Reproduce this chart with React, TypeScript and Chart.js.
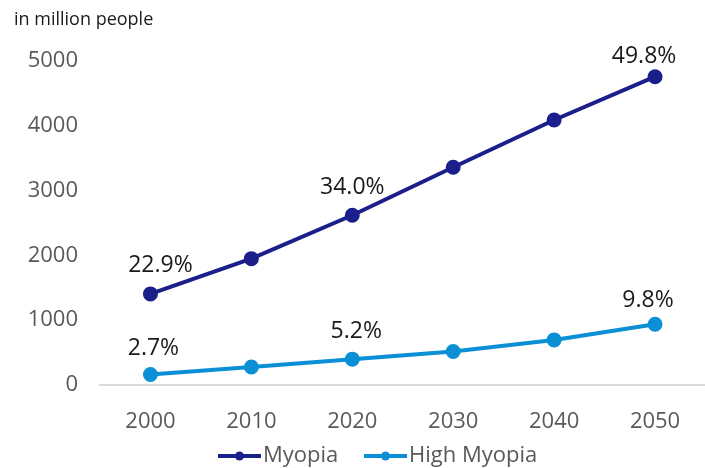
import React, { useEffect, useRef } from "react";
import { Chart, registerables } from "chart.js";

Chart.register(...registerables);

const years = ["2000", "2010", "2020", "2030", "2040", "2050"];
const myopia = [1406, 1950, 2620, 3361, 4089, 4758];
const highMyopia = [163, 277, 399, 517, 696, 938];
const myopiaShare = ["22.9%", "", "34.0%", "", "", "49.8%"];
const highMyopiaShare = ["2.7%", "", "5.2%", "", "", "9.8%"];
const yTicks = [0, 1000, 2000, 3000, 4000, 5000];

const FONT = "'Open Sans', 'Noto Sans', sans-serif";
const NAVY = "#1b1f8c";
const BLUE = "#0b8fd5";
const TICK = "#595959";

// nudges for the share labels relative to their points [dx, dy]
const labelNudges = [
  [[10, -28], null, [0, -28], null, null, [-11, -20]],
  [[3, -26], null, [4, -28], null, null, [-7, -24]],
];

const shareLabels = {
  id: "shareLabels",
  afterDatasetsDraw(chart: any) {
    const ctx = chart.ctx;
    const sets = [myopiaShare, highMyopiaShare];
    ctx.save();
    ctx.font = `23px ${FONT}`;
    ctx.fillStyle = "#1a1a1a";
    ctx.textAlign = "center";
    ctx.textBaseline = "middle";
    sets.forEach((labels, di) => {
      const meta = chart.getDatasetMeta(di);
      labels.forEach((txt, i) => {
        if (!txt) return;
        const pt = meta.data[i];
        const [dx, dy] = (labelNudges[di][i] as number[]) || [0, -28];
        ctx.fillText(txt, pt.x + dx, pt.y + dy);
      });
    });
    ctx.restore();
  },
};

const extras = {
  id: "extras",
  afterDraw(chart: any) {
    const ctx = chart.ctx;
    ctx.save();
    ctx.font = `18px ${FONT}`;
    ctx.fillStyle = "#1a1a1a";
    ctx.textAlign = "left";
    ctx.textBaseline = "middle";
    ctx.fillText("in million people", 14, 20);

    // legend
    const items = [
      { label: "Myopia", color: NAVY, x: 218 },
      { label: "High Myopia", color: BLUE, x: 364 },
    ];
    const y = 456;
    ctx.font = `22px ${FONT}`;
    items.forEach((it) => {
      ctx.strokeStyle = it.color;
      ctx.lineWidth = 4;
      ctx.beginPath();
      ctx.moveTo(it.x, y);
      ctx.lineTo(it.x + 43, y);
      ctx.stroke();
      ctx.fillStyle = it.color;
      ctx.beginPath();
      ctx.arc(it.x + 21.5, y, 4.5, 0, Math.PI * 2);
      ctx.fill();
      ctx.fillStyle = TICK;
      ctx.fillText(it.label, it.x + 45, y);
    });
    ctx.restore();
  },
};

export default function App() {
  const ref = useRef<HTMLCanvasElement>(null);

  useEffect(() => {
    document.body.style.margin = "0";
    const chart = new Chart(ref.current!, {
      type: "line",
      data: {
        labels: years,
        datasets: [
          {
            label: "Myopia",
            data: myopia,
            borderColor: NAVY,
            backgroundColor: NAVY,
            borderWidth: 4,
            pointRadius: 5.5,
            pointHoverRadius: 5.5,
            tension: 0,
          },
          {
            label: "High Myopia",
            data: highMyopia,
            borderColor: BLUE,
            backgroundColor: BLUE,
            borderWidth: 4,
            pointRadius: 5.5,
            pointHoverRadius: 5.5,
            tension: 0,
          },
        ],
      },
      options: {
        animation: false,
        responsive: false,
        devicePixelRatio: 1,
        layout: { padding: { top: 61, bottom: 33, left: 0, right: 0 } },
        plugins: {
          legend: { display: false },
          tooltip: { enabled: false },
        },
        scales: {
          x: {
            offset: true,
            grid: { display: false, drawTicks: false },
            border: { display: true, color: "#d9d9d9", width: 2 },
            ticks: {
              color: TICK,
              font: { family: FONT, size: 22 },
              padding: 24,
            },
            afterFit(scale: any) {
              scale.height = 50;
              scale.paddingLeft = 0;
              scale.paddingRight = 0;
            },
          },
          y: {
            min: 0,
            max: 5000,
            afterBuildTicks(scale: any) {
              scale.ticks = yTicks.map((v) => ({ value: v }));
            },
            grid: { display: false, drawTicks: false },
            border: { display: false },
            ticks: {
              color: TICK,
              font: { family: FONT, size: 22 },
              padding: 22,
              callback: (v: any) => String(v),
            },
            afterFit(scale: any) {
              scale.width = 100;
              scale.paddingTop = 0;
              scale.paddingBottom = 0;
            },
          },
        },
      },
      plugins: [shareLabels, extras],
    });
    return () => chart.destroy();
  }, []);

  // the plot runs flush to the right edge, so the canvas is a touch wider than its frame
  return (
    <div style={{ width: 705, height: 468, overflow: "hidden" }}>
      <canvas ref={ref} width={715} height={468} style={{ display: "block" }} />
    </div>
  );
}
